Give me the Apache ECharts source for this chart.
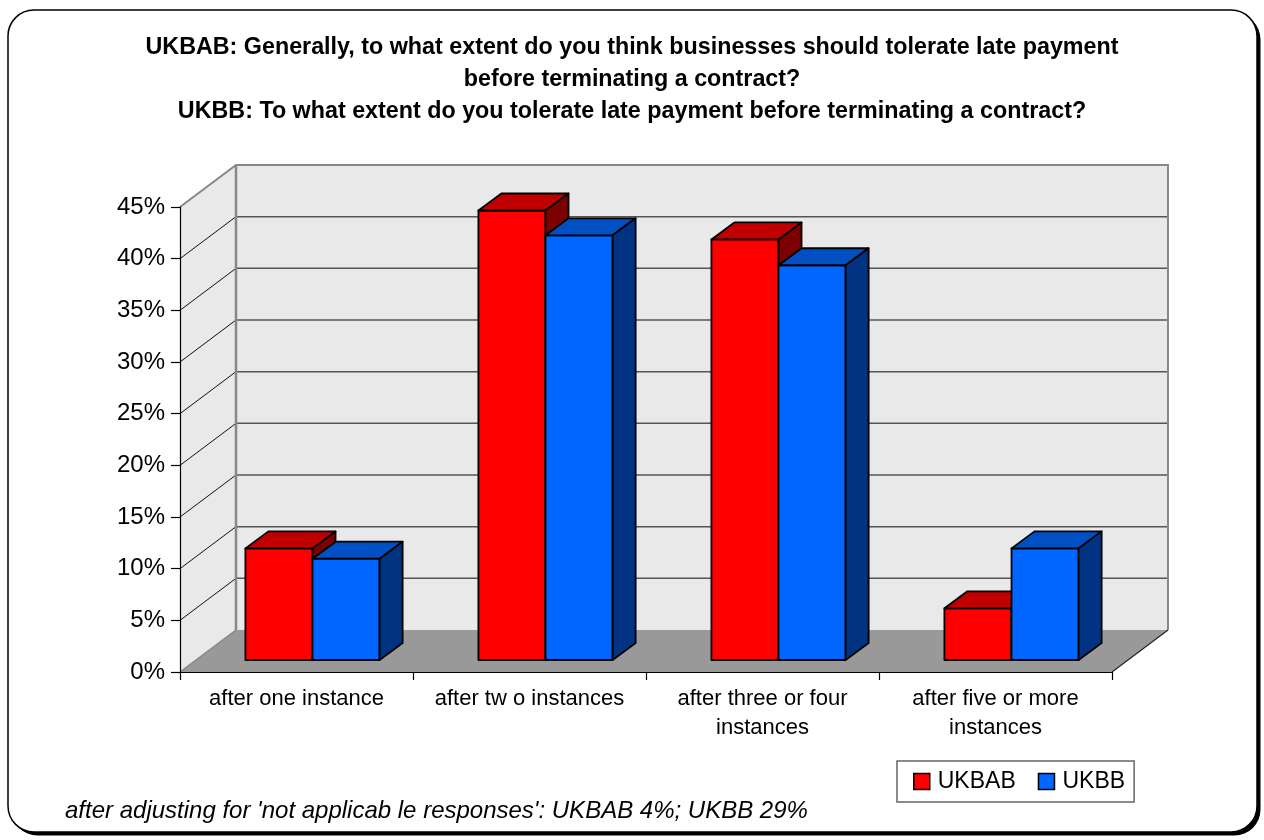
<!DOCTYPE html>
<html>
<head>
<meta charset="utf-8">
<script src="https://cdn.jsdelivr.net/npm/echarts@6/dist/echarts.min.js"></script>
<style>
html,body{margin:0;padding:0;background:#fff;}
#chart{width:1264px;height:840px;}
</style>
</head>
<body>
<div id="chart"></div>
<script>
// ---- data ----
var categories = ['after one instance', 'after tw o instances', 'after three or four\ninstances', 'after five or more\ninstances'];
var seriesNames = ['UKBAB', 'UKBB'];
var ukbab = [10.8, 43.5, 40.7, 5.0];
var ukbb = [9.8, 41.1, 38.2, 10.8];
var yTicks = [0, 5, 10, 15, 20, 25, 30, 35, 40, 45];
var titleLines = [
  'UKBAB: Generally, to what extent do you think businesses should tolerate late payment',
  'before terminating a contract?',
  'UKBB: To what extent do you tolerate late payment before terminating a contract?'
];
var footnote = "after adjusting for 'not applicab le responses': UKBAB 4%; UKBB 29%";

// ---- styling / 3D geometry ----
var FONT = '"Liberation Sans", Arial, sans-serif';
var DX = 56, DY = -42;          // full depth of the floor / walls
var BAR_F0 = 0.286;             // depth position of bar fronts (fraction)
var BAR_DX = 23, BAR_DY = -17;  // bar depth
var BAR_W = 0.288;              // bar width as fraction of band
var palette = [
  {front: '#ff0000', top: '#c00000', side: '#7c0000'},
  {front: '#0066ff', top: '#0050c4', side: '#003482'}
];

var chart = echarts.init(document.getElementById('chart'), null, {renderer: 'canvas'});

function frameRender(params, api) {
  var yMax = yTicks[yTicks.length - 1];
  var p00 = api.coord([0, 0]);
  var band = api.size([1, 0])[0];
  var x0 = p00[0] - band / 2;
  var x1 = x0 + band * categories.length;
  var y0 = api.coord([0, 0])[1];
  var yT = api.coord([0, yMax])[1];
  var ch = [];
  ch.push({type: 'polygon', shape: {points: [[x0, y0], [x0, yT], [x0 + DX, yT + DY], [x0 + DX, y0 + DY]]},
    style: {fill: '#e9e9e9', stroke: null}});
  ch.push({type: 'polygon', shape: {points: [[x0 + DX, yT + DY], [x1 + DX, yT + DY], [x1 + DX, y0 + DY], [x0 + DX, y0 + DY]]},
    style: {fill: '#e9e9e9', stroke: null}});
  ch.push({type: 'polygon', shape: {points: [[x0, y0], [x1, y0], [x1 + DX, y0 + DY], [x0 + DX, y0 + DY]]},
    style: {fill: '#999999', stroke: null}});
  yTicks.forEach(function (v) {
    if (v === 0 || v === yMax) return;
    var y = api.coord([0, v])[1];
    ch.push({type: 'line', shape: {x1: x0 + DX, y1: y + DY, x2: x1 + DX, y2: y + DY},
      style: {stroke: '#555555', lineWidth: 1.5}});
    ch.push({type: 'line', shape: {x1: x0, y1: y, x2: x0 + DX, y2: y + DY},
      style: {stroke: '#111111', lineWidth: 1}});
  });
  ch.push({type: 'polyline', shape: {points: [[x0, yT], [x0 + DX, yT + DY], [x1 + DX, yT + DY], [x1 + DX, y0 + DY]]},
    style: {stroke: '#888888', lineWidth: 2, fill: null}});
  ch.push({type: 'line', shape: {x1: x0 + DX, y1: yT + DY, x2: x0 + DX, y2: y0 + DY},
    style: {stroke: '#888888', lineWidth: 2.5}});
  ch.push({type: 'line', shape: {x1: x0, y1: y0, x2: x0 + DX, y2: y0 + DY},
    style: {stroke: '#888888', lineWidth: 1.5}});
  ch.push({type: 'line', shape: {x1: x1, y1: y0, x2: x1 + DX, y2: y0 + DY},
    style: {stroke: '#222222', lineWidth: 1.2}});
  return {type: 'group', children: ch};
}

function makeBarRender(si) {
  var col = palette[si];
  return function (params, api) {
    var cat = api.value(0);
    var val = api.value(1);
    var base = api.coord([cat, 0]);
    var top = api.coord([cat, val]);
    var band = api.size([1, 0])[0];
    var bw = band * BAR_W;
    var sx = DX * BAR_F0, sy = DY * BAR_F0;
    var xl = base[0] - bw + si * bw + sx;
    var xr = xl + bw;
    var yb = base[1] + sy;
    var yt = top[1] + sy;
    var st = {stroke: '#000', lineWidth: 1.8, lineJoin: 'round'};
    return {type: 'group', children: [
      {type: 'polygon', shape: {points: [[xl, yt], [xr, yt], [xr, yb], [xl, yb]]},
        style: Object.assign({fill: col.front}, st)},
      {type: 'polygon', shape: {points: [[xl, yt], [xl + BAR_DX, yt + BAR_DY], [xr + BAR_DX, yt + BAR_DY], [xr, yt]]},
        style: Object.assign({fill: col.top}, st)},
      {type: 'polygon', shape: {points: [[xr, yt], [xr + BAR_DX, yt + BAR_DY], [xr + BAR_DX, yb + BAR_DY], [xr, yb]]},
        style: Object.assign({fill: col.side}, st)}
    ]};
  };
}

var option = {
  animation: false,
  backgroundColor: '#ffffff',
  title: {
    text: titleLines.join('\n'),
    left: 'center',
    top: 32,
    padding: [0, 0, 0, 16],
    textStyle: {fontFamily: FONT, fontSize: 23.3, fontWeight: 'bold', color: '#000', lineHeight: 32}
  },
  legend: {
    left: 897, top: 761,
    orient: 'horizontal',
    padding: [9, 9, 9, 16],
    itemGap: 22,
    itemWidth: 16, itemHeight: 16,
    borderColor: '#666', borderWidth: 1.5,
    textStyle: {fontFamily: FONT, fontSize: 23, color: '#000', padding: [0, 0, 0, 3]},
    data: [
      {name: seriesNames[0], icon: 'rect', itemStyle: {color: palette[0].front, borderColor: '#000', borderWidth: 1.5}},
      {name: seriesNames[1], icon: 'rect', itemStyle: {color: palette[1].front, borderColor: '#000', borderWidth: 1.5}}
    ]
  },
  grid: {left: 180, right: 152, top: 207, bottom: 168, containLabel: false},
  xAxis: {
    type: 'category',
    data: categories,
    boundaryGap: true,
    z: 10,
    axisLine: {show: true, lineStyle: {color: '#000', width: 1.2}},
    axisTick: {show: true, length: 8, lineStyle: {color: '#000', width: 1.2}},
    axisLabel: {interval: 0, margin: 12, fontFamily: FONT, fontSize: 22, color: '#000', lineHeight: 29}
  },
  yAxis: {
    type: 'value',
    min: 0, max: 45, interval: 5,
    z: 10,
    axisLine: {show: true, lineStyle: {color: '#000', width: 1.2}},
    axisTick: {show: true, length: 9, lineStyle: {color: '#000', width: 1.2}},
    axisLabel: {formatter: '{value}%', margin: 15, fontFamily: FONT, fontSize: 24, color: '#000'},
    splitLine: {show: false}
  },
  graphic: [
    {type: 'rect', z: -11, silent: true,
      shape: {x: 11.5, y: 13.5, width: 1249, height: 822, r: 26},
      style: {fill: '#000', stroke: null}},
    {type: 'rect', z: -10, silent: true,
      shape: {x: 8, y: 10, width: 1249, height: 822, r: 26},
      style: {fill: '#fff', stroke: '#000', lineWidth: 1.5}},
    {type: 'text', x: 65, y: 811, z: 10,
      style: {text: footnote, fontFamily: FONT, fontSize: 24, fontStyle: 'italic', fill: '#000', verticalAlign: 'middle'}}
  ],
  series: [
    {type: 'custom', name: 'frame', silent: true, z: 1, renderItem: frameRender, data: [[0, 0]], tooltip: {show: false}},
    {type: 'custom', name: seriesNames[0], z: 3, itemStyle: {color: palette[0].front}, renderItem: makeBarRender(0),
      data: ukbab.map(function (v, i) { return [i, v]; })},
    {type: 'custom', name: seriesNames[1], z: 4, itemStyle: {color: palette[1].front}, renderItem: makeBarRender(1),
      data: ukbb.map(function (v, i) { return [i, v]; })}
  ]
};
chart.setOption(option);
</script>
</body>
</html>
